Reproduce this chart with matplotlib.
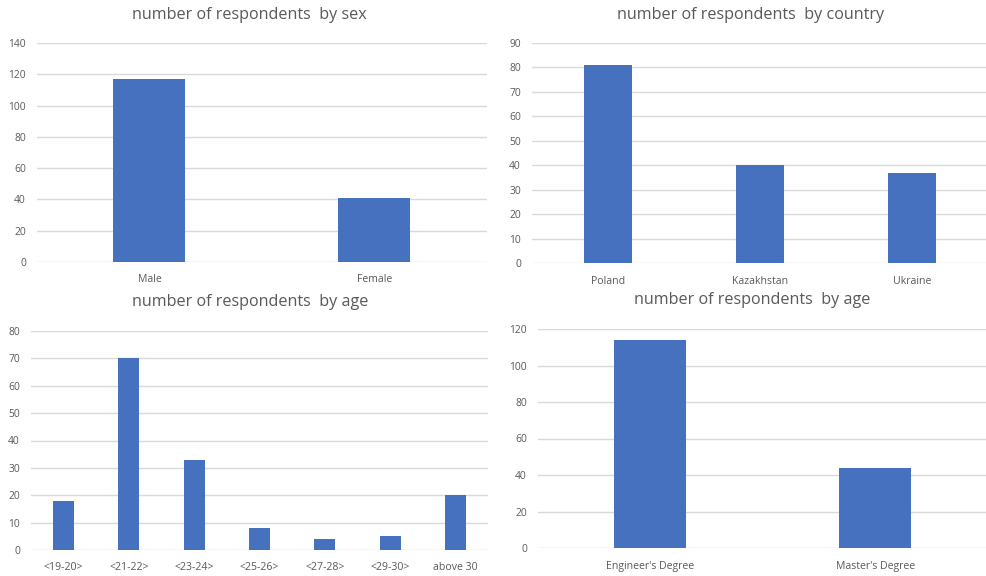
import matplotlib.pyplot as plt

# data
sex_labels = ["Male", "Female"]
sex_counts = [117, 41]

country_labels = ["Poland", "Kazakhstan", "Ukraine"]
country_counts = [81, 40, 37]

age_labels = ["<19-20>", "<21-22>", "<23-24>", "<25-26>", "<27-28>", "<29-30>", "above 30"]
age_counts = [18, 70, 33, 8, 4, 5, 20]

degree_labels = ["Engineer's Degree", "Master's Degree"]
degree_counts = [114, 44]

BAR = "#4571BE"
GRID = "#D9D9D9"
TEXT = "#595959"
W, H = 987, 576

plt.rcParams['font.family'] = ['Open Sans', 'DejaVu Sans']

fig = plt.figure(figsize=(W / 100, H / 100), dpi=100)


def panel(px, labels, values, ymax, step, title, title_xy):
    x0, y0, x1, y1 = px
    ax = fig.add_axes([x0 / W, 1 - y1 / H, (x1 - x0) / W, (y1 - y0) / H])
    pos = list(range(len(labels)))
    ax.bar(pos, values, width=0.32, color=BAR, zorder=3)
    ax.set_xlim(-0.5, len(labels) - 0.5)
    ax.set_ylim(0, ymax)
    ax.set_yticks(range(0, ymax + 1, step))
    ax.set_xticks(pos)
    ax.set_xticklabels(labels)
    ax.grid(axis='y', color=GRID, linewidth=1, zorder=0)
    ax.set_axisbelow(True)
    for s in ax.spines.values():
        s.set_visible(False)
    ax.tick_params(length=0, labelsize=7.4, colors=TEXT)
    ax.tick_params(axis='x', pad=9, labelsize=7.6)
    ax.tick_params(axis='y', pad=8)
    fig.text(title_xy[0] / W, 1 - title_xy[1] / H, title, ha='center', va='center',
             fontsize=11.6, color=TEXT)
    return ax


panel((37, 43, 487, 262), sex_labels, sex_counts, 140, 20,
      "number of respondents  by sex", (249, 15))
panel((532, 43, 988, 263), country_labels, country_counts, 90, 10,
      "number of respondents  by country", (751, 15))
panel((31, 331, 488, 550), age_labels, age_counts, 80, 10,
      "number of respondents  by age", (250, 302))
panel((538, 329, 988, 548), degree_labels, degree_counts, 120, 20,
      "number of respondents  by age", (752, 300))

fig.savefig("out.png", dpi=100)
